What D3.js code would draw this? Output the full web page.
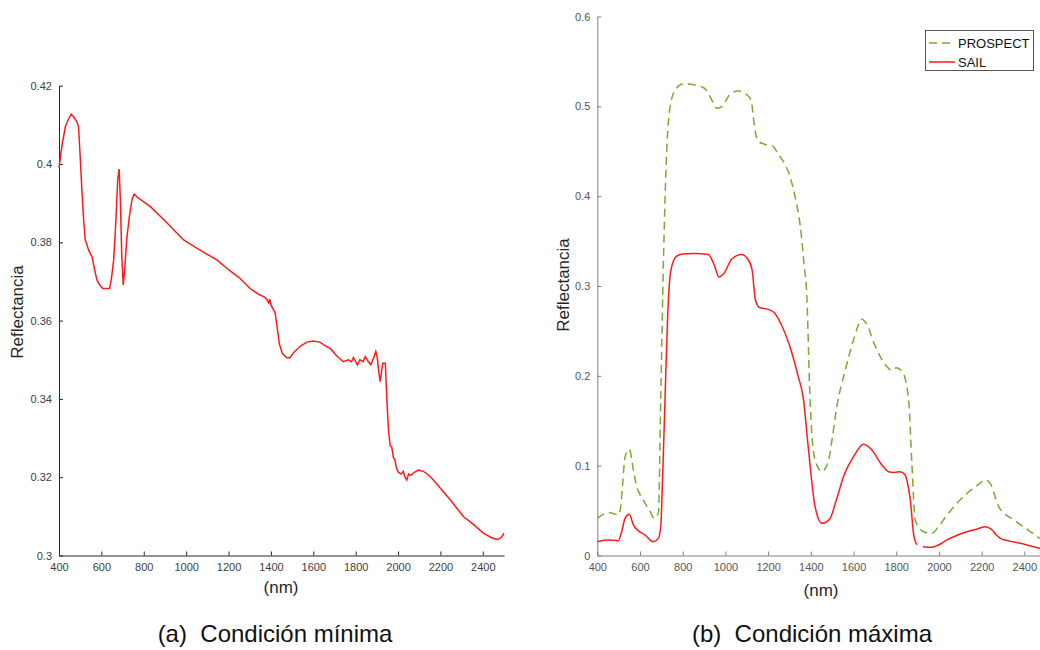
<!DOCTYPE html>
<html>
<head>
<meta charset="utf-8">
<script src="https://cdn.jsdelivr.net/npm/d3@7"></script>
<style>
  body { margin: 0; background: #fff; }
  svg { display: block; font-family: "Liberation Sans", Arial, sans-serif; }
</style>
</head>
<body>
<svg id="chart" width="1040" height="650"></svg>
<script>
// --- data (wavelength nm, reflectance) ---
var minCond = [[400,0.399],[415,0.405],[430,0.4095],[445,0.4115],[458,0.4127],[470,0.412],[485,0.4107],[492,0.4095],[500,0.402],[508,0.3934],[516,0.386],[524,0.3806],[540,0.378],[556,0.3763],[568,0.373],[579,0.3704],[593,0.369],[607,0.3682],[639,0.3682],[648,0.371],[658,0.3755],[668,0.385],[677,0.396],[684,0.3987],[690,0.39],[696,0.377],[703,0.3691],[710,0.373],[720,0.381],[732,0.3865],[745,0.391],[755,0.3923],[770,0.3915],[800,0.3903],[831,0.3891],[900,0.3855],[988,0.3806],[1050,0.3785],[1145,0.3755],[1200,0.373],[1250,0.371],[1302,0.3682],[1340,0.3668],[1370,0.366],[1380,0.3655],[1390,0.3645],[1395,0.3655],[1400,0.364],[1410,0.363],[1420,0.362],[1430,0.358],[1440,0.354],[1455,0.3515],[1475,0.3505],[1490,0.3505],[1510,0.352],[1540,0.3535],[1570,0.3545],[1600,0.3548],[1630,0.3545],[1660,0.3535],[1680,0.3529],[1710,0.351],[1742,0.3495],[1765,0.35],[1780,0.3495],[1790,0.3506],[1800,0.3495],[1808,0.3487],[1820,0.35],[1835,0.3495],[1845,0.3508],[1860,0.3495],[1872,0.3487],[1885,0.3505],[1895,0.3521],[1902,0.3505],[1910,0.3465],[1916,0.3444],[1922,0.347],[1928,0.3491],[1940,0.3491],[1947,0.34],[1955,0.332],[1963,0.328],[1970,0.3278],[1978,0.325],[1985,0.3245],[1992,0.3225],[2002,0.3212],[2015,0.3208],[2025,0.3215],[2033,0.32],[2041,0.3193],[2050,0.3208],[2060,0.3205],[2075,0.3212],[2096,0.3218],[2120,0.3215],[2145,0.3205],[2167,0.3193],[2200,0.3172],[2250,0.314],[2309,0.3099],[2350,0.3082],[2403,0.3057],[2440,0.3046],[2466,0.3041],[2480,0.3043],[2490,0.3048],[2500,0.3057]];

var sail = [[400,0.0154],[444,0.0173],[498,0.0165],[514,0.0265],[530,0.0414],[550,0.0458],[569,0.034],[592,0.0276],[624,0.0228],[662,0.0154],[686,0.0191],[697,0.032],[705,0.08],[717,0.173],[730,0.27],[745,0.318],[770,0.333],[800,0.3356],[850,0.3362],[920,0.335],[945,0.325],[970,0.31],[990,0.313],[1030,0.33],[1075,0.335],[1105,0.33],[1125,0.318],[1140,0.285],[1160,0.276],[1200,0.274],[1230,0.27],[1260,0.258],[1300,0.234],[1340,0.2],[1366,0.173],[1380,0.14],[1397,0.0989],[1420,0.0543],[1452,0.0358],[1470,0.037],[1491,0.0414],[1520,0.062],[1553,0.0877],[1600,0.11],[1647,0.1238],[1665,0.122],[1686,0.1174],[1733,0.1007],[1764,0.0933],[1790,0.0925],[1819,0.0933],[1842,0.0896],[1855,0.078],[1866,0.0618],[1881,0.0247],[1897,0.0117],[1910,null],[1925,0.0098],[1967,0.0091],[2000,0.012],[2038,0.0173],[2080,0.022],[2131,0.0265],[2180,0.0295],[2217,0.032],[2232,0.031],[2249,0.0284],[2268,0.023],[2288,0.0191],[2330,0.016],[2381,0.0136],[2430,0.0105],[2475,0.008],[2500,0.0068]];

var prospect = [[400,0.0414],[430,0.046],[460,0.0476],[498,0.0451],[510,0.055],[519,0.0804],[530,0.11],[550,0.118],[569,0.0952],[585,0.0766],[600,0.068],[624,0.0581],[645,0.05],[666,0.0414],[686,0.047],[697,0.173],[710,0.33],[725,0.45],[745,0.505],[770,0.52],[800,0.525],[850,0.524],[900,0.5204],[930,0.51],[960,0.498],[985,0.5],[1020,0.513],[1060,0.517],[1100,0.513],[1120,0.507],[1135,0.48],[1150,0.462],[1180,0.458],[1220,0.456],[1250,0.446],[1280,0.435],[1300,0.4236],[1330,0.395],[1350,0.368],[1370,0.32],[1380,0.2956],[1397,0.169],[1420,0.106],[1452,0.0933],[1483,0.106],[1500,0.13],[1522,0.166],[1560,0.205],[1600,0.24],[1640,0.263],[1660,0.258],[1700,0.234],[1750,0.212],[1780,0.206],[1800,0.209],[1830,0.204],[1858,0.173],[1874,0.099],[1889,0.0395],[1928,0.0265],[1967,0.0247],[2000,0.033],[2038,0.045],[2080,0.057],[2123,0.0673],[2180,0.078],[2217,0.084],[2241,0.08],[2280,0.0543],[2350,0.0395],[2420,0.028],[2475,0.019],[2500,0.016]];

var xTicks = [400,600,800,1000,1200,1400,1600,1800,2000,2200,2400];
var yTicksA = [0.3,0.32,0.34,0.36,0.38,0.4,0.42];
var yTicksB = [0,0.1,0.2,0.3,0.4,0.5,0.6];
var legendNames = ["PROSPECT","SAIL"];

var svg = d3.select("#chart");
var RED = "#ff1a1a", GREEN = "#77ac30";

function panel(cfg) {
    var g = svg.append("g");
    var x = d3.scaleLinear().domain([400,2500]).range([cfg.left, cfg.right]);
    var y = d3.scaleLinear().domain(cfg.ydom).range([cfg.bottom, cfg.top]);

    var xa = g.append("g")
        .attr("transform", "translate(0," + cfg.bottom + ")")
        .call(d3.axisBottom(x).tickValues(xTicks).tickSizeInner(-4).tickSizeOuter(0).tickPadding(8).tickFormat(d3.format("d")));
    var ya = g.append("g")
        .attr("transform", "translate(" + cfg.left + ",0)")
        .call(d3.axisLeft(y).tickValues(cfg.yticks).tickSizeInner(-4).tickSizeOuter(0).tickPadding(7).tickFormat(function(d){ return d3.format("")(+d.toFixed(2)); }));
    [xa, ya].forEach(function (a) {
        a.select(".domain").attr("stroke", cfg.axisColor);
        a.selectAll(".tick line").attr("stroke", cfg.axisColor);
        a.selectAll(".tick text").attr("fill", cfg.textColor).style("font-size", "11px");
    });

    var line = d3.line()
        .defined(function (d) { return d[1] != null; })
        .curve(cfg.curve)
        .x(function (d) { return x(d[0]); })
        .y(function (d) { return y(d[1]); });

    cfg.series.forEach(function (s) {
        g.append("path")
            .datum(s.data)
            .attr("fill", "none")
            .attr("stroke", s.color)
            .attr("stroke-width", 1.5)
            .attr("stroke-dasharray", s.dash || null)
            .attr("d", line);
    });

    g.append("text")
        .attr("x", cfg.xlab[0]).attr("y", cfg.xlab[1])
        .attr("text-anchor", "middle")
        .attr("fill", "#262626")
        .style("font-size", "17px")
        .text("(nm)");
    g.append("text")
        .attr("transform", "translate(" + cfg.ylab[0] + "," + cfg.ylab[1] + ") rotate(-90)")
        .attr("text-anchor", "middle")
        .attr("fill", "#262626")
        .style("font-size", "17px")
        .text("Reflectancia");
    g.append("text")
        .attr("x", cfg.caption[0]).attr("y", 642)
        .attr("text-anchor", "middle")
        .attr("fill", "#111")
        .style("font-size", "24px")
        .style("white-space", "pre")
        .text(cfg.caption[1]);
    return g;
}

panel({
    left: 59, right: 504, top: 85.7, bottom: 555.5,
    ydom: [0.3, 0.42], yticks: yTicksA,
    axisColor: "#262626", textColor: "#404040",
    series: [{ data: minCond, color: RED }],
    curve: d3.curveLinear,
    xlab: [281, 593], ylab: [23, 312],
    caption: [275, "(a)  Condición mínima"]
});

panel({
    left: 597.3, right: 1045.7, top: 16.5, bottom: 555.5,
    ydom: [0, 0.6], yticks: yTicksB,
    axisColor: "#7f7f7f", textColor: "#555",
    series: [{ data: prospect, color: GREEN, dash: "8,5" }, { data: sail, color: RED }],
    curve: d3.curveMonotoneX,
    xlab: [821, 596], ylab: [569, 285],
    caption: [812, "(b)  Condición máxima"]
});

// legend
var leg = svg.append("g");
leg.append("rect")
    .attr("x", 925.5).attr("y", 30.5).attr("width", 108).attr("height", 40)
    .attr("fill", "#fff").attr("stroke", "#555").attr("stroke-width", 1);
var legColors = [GREEN, RED], legDash = ["8,5", null];
legendNames.forEach(function (n, i) {
    var ly = 43 + i * 19;
    leg.append("line")
        .attr("x1", 929).attr("x2", 955).attr("y1", ly).attr("y2", ly)
        .attr("stroke", legColors[i]).attr("stroke-width", 1.5)
        .attr("stroke-dasharray", legDash[i]);
    leg.append("text")
        .attr("x", 958).attr("y", ly + 4.5)
        .attr("fill", "#111")
        .style("font-size", "13px")
        .text(n);
});
</script>
</body>
</html>
